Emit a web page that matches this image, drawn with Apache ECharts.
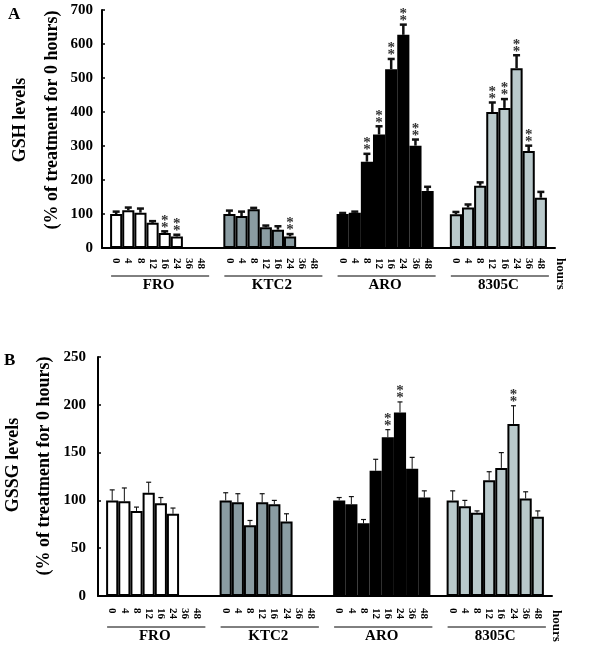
<!DOCTYPE html>
<html>
<head>
<meta charset="utf-8">
<script src="https://cdn.jsdelivr.net/npm/echarts@6/dist/echarts.min.js"></script>
<style>html,body{margin:0;padding:0;background:#fff}#c{width:600px;height:646px}</style>
</head>
<body>
<div id="c"></div>
<script>
// ---- data ----
const hours = ['0', '4', '8', '12', '16', '24', '36', '48'];
const cellLines = ['FRO', 'KTC2', 'ARO', '8305C'];
const barColors = ['#ffffff', '#8a9ca2', '#000000', '#b9c9cb'];

// Panel A: GSH levels
const gshFRO = [100, 111, 104, 74, 44, 34, null, null];
const gshFROErr = [7, 8, 12, 5, 5, 5, null, null];
const gshFROSig = [0, 0, 0, 0, 1, 1, 0, 0];
const gshKTC2 = [100, 94, 114, 61, 54, 34, null, null];
const gshKTC2Err = [10, 13, 4, 5, 10, 7, null, null];
const gshKTC2Sig = [0, 0, 0, 0, 0, 1, 0, 0];
const gshARO = [100, 104, 254, 334, 526, 627, 301, 168];
const gshAROErr = [3, 3, 23, 24, 30, 30, 18, 12];
const gshAROSig = [0, 0, 1, 1, 1, 1, 1, 0];
const gsh8305C = [99, 119, 183, 400, 412, 529, 285, 148];
const gsh8305CErr = [7, 9, 10, 28, 26, 38, 16, 17];
const gsh8305CSig = [0, 0, 0, 1, 1, 1, 1, 0];

// Panel B: GSSG levels
const gssgFRO = [100, 99, 89, 108, 97, 86, null, null];
const gssgFROErr = [11, 14, 4, 11, 6, 6, null, null];
const gssgFROSig = [0, 0, 0, 0, 0, 0, 0, 0];
const gssgKTC2 = [100, 98, 74, 98, 96, 78, null, null];
const gssgKTC2Err = [8, 9, 5, 9, 4, 8, null, null];
const gssgKTC2Sig = [0, 0, 0, 0, 0, 0, 0, 0];
const gssgARO = [100, 96, 76, 131, 166, 192, 133, 103];
const gssgAROErr = [3, 8, 4, 12, 8, 11, 12, 7];
const gssgAROSig = [0, 0, 0, 0, 1, 1, 0, 0];
const gssg8305C = [100, 94, 87, 121, 134, 180, 102, 83];
const gssg8305CErr = [10, 6, 2, 9, 16, 19, 7, 6];
const gssg8305CSig = [0, 0, 0, 0, 0, 1, 0, 0];

const yTicksA = {min: 0, max: 700, interval: 100};
const yTicksB = {min: 0, max: 250, interval: 50};

// ---- chart ----
const FONT = 'Liberation Serif';
const GAP = 0.143;

function panelSeries(p, means, errs, sigs, cfg) {
  const series = [];
  hours.forEach((hName, h) => {
    series.push({
      type: 'bar', name: hName, xAxisIndex: p, yAxisIndex: p,
      barGap: '0%', barCategoryGap: (GAP * 100) + '%',
      itemStyle: {borderColor: '#000', borderWidth: 2},
      data: means.map((arr, i) => arr[h] == null ? '-' : {value: arr[h], itemStyle: {color: barColors[i]}}),
      silent: true
    });
  });
  const edata = [];
  means.forEach((arr, i) => {
    arr.forEach((v, h) => {
      edata.push([i, h, v == null ? 0 : v, errs[i][h] == null ? 0 : errs[i][h], sigs[i][h], v == null ? 0 : 1]);
    });
  });
  series.push({
    type: 'custom', xAxisIndex: p, yAxisIndex: p, silent: true,
    encode: {x: 0, y: 2},
    data: edata,
    renderItem: function (params, api) {
      const i = api.value(0), h = api.value(1), v = api.value(2), e = api.value(3), s = api.value(4), has = api.value(5);
      const base = api.coord([i, 0]);
      const band = api.size([1, 0])[0];
      const inner = band * (1 - GAP);
      const bw = inner / 8;
      const x = base[0] - inner / 2 + (h + 0.5) * bw;
      const children = [{
        type: 'text', x: x, y: base[1] + cfg.labelOffset, rotation: -Math.PI / 2,
        style: {text: hours[h], align: 'left', verticalAlign: 'middle', font: 'bold 11px "' + FONT + '"', fill: '#000'}
      }];
      if (has) {
        const top = api.coord([i, v])[1];
        const capY = api.coord([i, v + e])[1];
        children.push({type: 'line', shape: {x1: x, y1: top, x2: x, y2: capY}, style: {stroke: '#111', lineWidth: cfg.errW}});
        children.push({type: 'line', shape: {x1: x - cfg.capW / 2, y1: capY, x2: x + cfg.capW / 2, y2: capY}, style: {stroke: '#111', lineWidth: cfg.capLW}});
        if (s) {
          [3.5, 10.5].forEach(d => children.push({
            type: 'text', x: x, y: capY - d,
            style: {text: '*', align: 'center', verticalAlign: 'middle', font: 'bold 15px "' + FONT + '"', fill: '#333'}
          }));
        }
      }
      return {type: 'group', children: children};
    }
  });
  series.push({
    type: 'custom', xAxisIndex: p, yAxisIndex: p, silent: true,
    encode: {x: 0, y: 1},
    data: cellLines.map((c, i) => [i, 0]),
    renderItem: function (params, api) {
      const base = api.coord([api.value(0), 0]);
      const band = api.size([1, 0])[0];
      const inner = band * (1 - GAP);
      const y = base[1] + cfg.lineOffset;
      return {type: 'line', shape: {x1: base[0] - inner / 2 + 1, y1: y, x2: base[0] + inner / 2 + 2, y2: y}, style: {stroke: '#000', lineWidth: 1}};
    }
  });
  return series;
}

function xAxis(p, margin) {
  return {
    type: 'category', gridIndex: p, data: cellLines,
    axisLine: {lineStyle: {color: '#000', width: 2}},
    axisTick: {inside: true, length: 4, lineStyle: {color: '#000', width: 2}},
    axisLabel: {margin: margin, fontFamily: FONT, fontWeight: 'bold', fontSize: 15, color: '#000'},
    splitLine: {show: false}
  };
}
function yAxis(p, t, margin) {
  return {
    type: 'value', gridIndex: p, min: t.min, max: t.max, interval: t.interval,
    axisLine: {show: true, lineStyle: {color: '#000', width: 2}},
    axisTick: {show: true, inside: true, length: 3, lineStyle: {color: '#000', width: 1.5}},
    axisLabel: {margin: margin, fontFamily: FONT, fontWeight: 'bold', fontSize: 15, color: '#000'},
    splitLine: {show: false}
  };
}

const chart = echarts.init(document.getElementById('c'), null, {renderer: 'canvas'});
const titleFont = {fontFamily: FONT, fontWeight: 'bold', fontSize: 18, fill: '#000'};
chart.setOption({
  animation: false,
  backgroundColor: '#fff',
  grid: [
    {left: 102, top: 10, width: 453, height: 238},
    {left: 98, top: 357, width: 454, height: 239}
  ],
  xAxis: [xAxis(0, 30), xAxis(1, 33)],
  yAxis: [yAxis(0, yTicksA, 9), yAxis(1, yTicksB, 12)],
  series: [].concat(
    panelSeries(0, [gshFRO, gshKTC2, gshARO, gsh8305C], [gshFROErr, gshKTC2Err, gshAROErr, gsh8305CErr],
      [gshFROSig, gshKTC2Sig, gshAROSig, gsh8305CSig], {labelOffset: 10, lineOffset: 28, errW: 2.5, capW: 7, capLW: 2.5}),
    panelSeries(1, [gssgFRO, gssgKTC2, gssgARO, gssg8305C], [gssgFROErr, gssgKTC2Err, gssgAROErr, gssg8305CErr],
      [gssgFROSig, gssgKTC2Sig, gssgAROSig, gssg8305CSig], {labelOffset: 12, lineOffset: 31, errW: 1, capW: 5, capLW: 1.2})
  ),
  graphic: [
    {type: 'text', left: 8, top: 6, style: Object.assign({text: 'A'}, titleFont, {fontSize: 17})},
    {type: 'text', left: 4, top: 352, style: Object.assign({text: 'B'}, titleFont, {fontSize: 17})},
    {type: 'text', x: 20, y: 120, rotation: Math.PI / 2, style: Object.assign({text: 'GSH levels', align: 'center', verticalAlign: 'middle'}, titleFont)},
    {type: 'text', x: 52, y: 120, rotation: Math.PI / 2, style: Object.assign({text: '(% of treatment for 0 hours)', align: 'center', verticalAlign: 'middle'}, titleFont)},
    {type: 'text', x: 13, y: 465, rotation: Math.PI / 2, style: Object.assign({text: 'GSSG levels', align: 'center', verticalAlign: 'middle'}, titleFont)},
    {type: 'text', x: 44, y: 466, rotation: Math.PI / 2, style: Object.assign({text: '(% of treatment for 0 hours)', align: 'center', verticalAlign: 'middle'}, titleFont)},
    {type: 'text', x: 560, y: 258, rotation: -Math.PI / 2, style: Object.assign({text: 'hours', align: 'left', verticalAlign: 'middle'}, titleFont, {fontSize: 13})},
    {type: 'text', x: 556, y: 610, rotation: -Math.PI / 2, style: Object.assign({text: 'hours', align: 'left', verticalAlign: 'middle'}, titleFont, {fontSize: 13})}
  ]
});
</script>
</body>
</html>
